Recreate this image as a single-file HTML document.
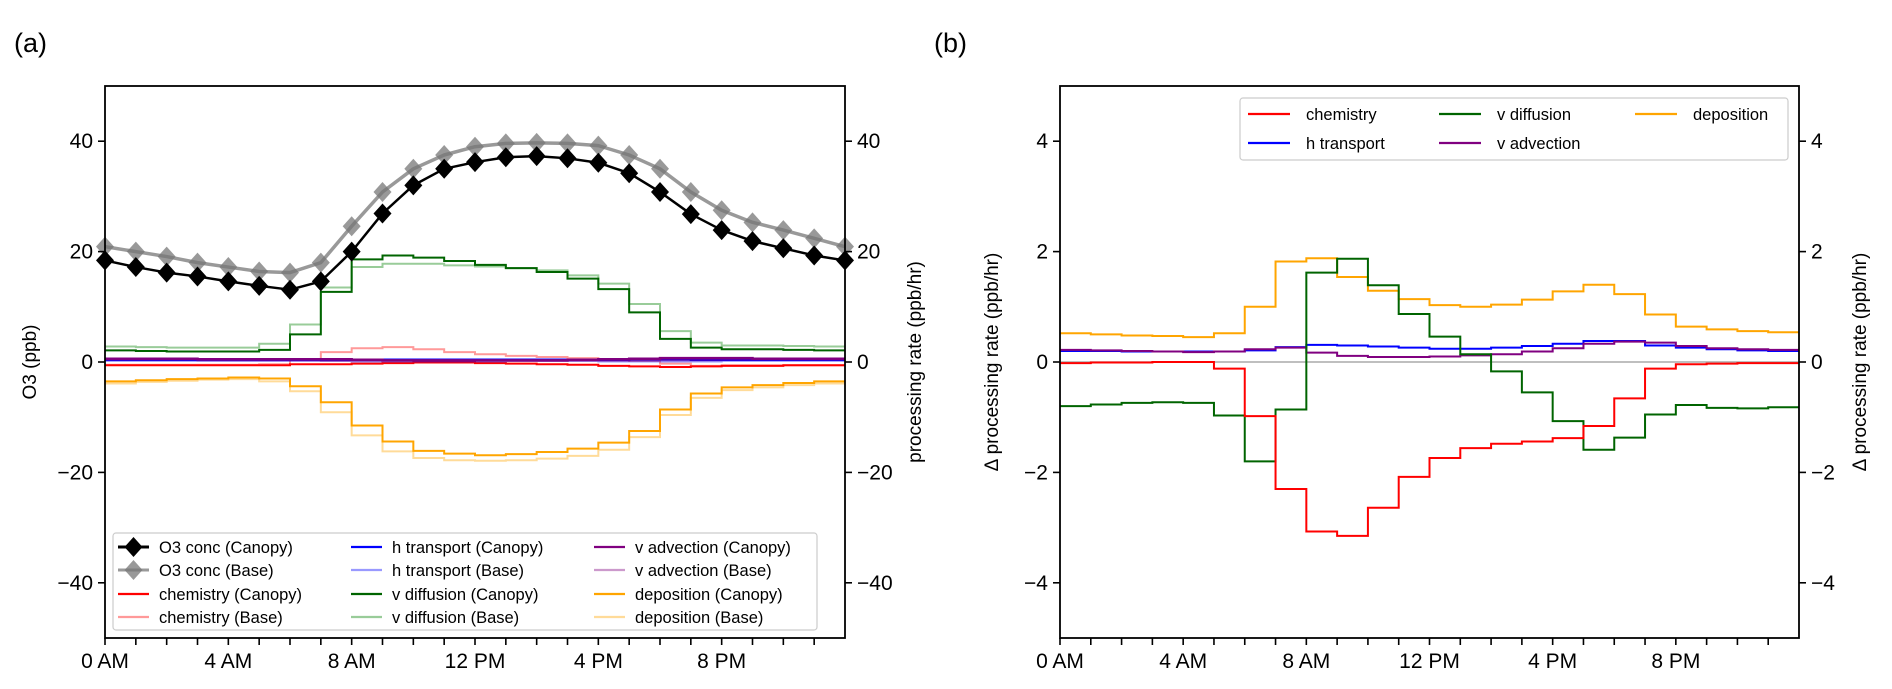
<!DOCTYPE html>
<html><head><meta charset="utf-8">
<style>
html,body{margin:0;padding:0;background:#fff;}
svg{display:block;font-family:"Liberation Sans","DejaVu Sans",sans-serif;}
</style></head>
<body>
<svg id="fig" width="1892" height="689" viewBox="0 0 1892 689" xmlns="http://www.w3.org/2000/svg">
<text x="14" y="52" font-size="27">(a)</text>
<text x="934" y="52" font-size="27">(b)</text>
</svg>
<script>
// ---- data ----
const hours = [0,1,2,3,4,5,6,7,8,9,10,11,12,13,14,15,16,17,18,19,20,21,22,23,24];
const xTickLabels = ["0 AM","4 AM","8 AM","12 PM","4 PM","8 PM"];
const xTickHours = [0,4,8,12,16,20];
const aTicks = [-40,-20,0,20,40];
const bTicks = [-4,-2,0,2,4];
const o3Canopy = [18.4,17.2,16.2,15.5,14.6,13.8,13.1,14.6,20.0,26.9,32.0,35.0,36.2,37.1,37.3,36.9,36.1,34.2,30.8,26.8,23.9,21.9,20.6,19.3,18.4];
const o3Base = [20.9,20.0,19.1,18.0,17.2,16.4,16.2,18.0,24.6,30.8,35.0,37.5,39.0,39.6,39.7,39.6,39.2,37.5,35.0,30.8,27.5,25.3,23.9,22.4,20.9];
const vdiffCanopy = [2.1,2.0,1.9,1.9,1.9,2.2,5.0,12.7,18.6,19.3,18.9,18.3,17.6,17.0,16.3,15.1,13.2,9.0,4.2,2.6,2.3,2.3,2.2,2.1];
const vdiffBase = [2.8,2.7,2.6,2.6,2.6,3.3,6.8,13.5,17.2,17.8,17.8,17.5,17.3,17.0,16.6,15.7,14.2,10.5,5.6,3.5,3.0,3.0,2.9,2.8];
const depCanopy = [-3.5,-3.3,-3.1,-3.0,-2.8,-3.0,-4.4,-7.3,-11.5,-14.4,-16.1,-16.6,-16.9,-16.7,-16.3,-15.7,-14.6,-12.5,-8.6,-5.7,-4.6,-4.2,-3.8,-3.5];
const depBase = [-3.9,-3.6,-3.4,-3.2,-3.1,-3.5,-5.3,-9.1,-13.3,-16.2,-17.4,-17.8,-17.9,-17.8,-17.5,-17.0,-15.9,-13.6,-9.6,-6.5,-5.1,-4.6,-4.2,-3.9];
const chemCanopy = [-0.6,-0.6,-0.6,-0.6,-0.6,-0.6,-0.4,-0.4,-0.3,-0.2,-0.1,-0.1,-0.2,-0.3,-0.4,-0.5,-0.7,-0.8,-0.9,-0.8,-0.7,-0.7,-0.6,-0.6];
const chemBase = [-0.5,-0.5,-0.5,-0.5,-0.5,-0.4,0.5,1.8,2.5,2.7,2.3,1.8,1.4,1.1,0.9,0.7,0.4,0.2,-0.3,-0.7,-0.6,-0.6,-0.6,-0.6];
const htCanopy = [0.4,0.4,0.4,0.4,0.4,0.4,0.4,0.4,0.4,0.4,0.4,0.4,0.4,0.4,0.4,0.4,0.4,0.5,0.5,0.4,0.4,0.4,0.4,0.4];
const htBase = [0.2,0.2,0.2,0.2,0.2,0.2,0.2,0.2,0.1,0.1,0.1,0.1,0.1,0.2,0.2,0.2,0.1,0.1,0.1,0.1,0.2,0.2,0.2,0.2];
const vadvCanopy = [0.6,0.6,0.6,0.5,0.5,0.5,0.5,0.5,0.4,0.3,0.3,0.3,0.3,0.3,0.3,0.4,0.5,0.6,0.7,0.7,0.7,0.6,0.6,0.6];
const vadvBase = [0.4,0.4,0.4,0.3,0.3,0.3,0.3,0.2,0.2,0.2,0.2,0.2,0.2,0.2,0.2,0.2,0.2,0.3,0.3,0.3,0.4,0.4,0.4,0.4];
const dChem = [-0.02,-0.01,-0.01,0,0,-0.12,-0.98,-2.3,-3.07,-3.15,-2.64,-2.08,-1.74,-1.56,-1.48,-1.44,-1.38,-1.16,-0.66,-0.12,-0.04,-0.03,-0.02,-0.02];
const dVdiff = [-0.8,-0.77,-0.74,-0.73,-0.74,-0.97,-1.8,-0.86,1.62,1.87,1.39,0.87,0.46,0.14,-0.17,-0.55,-1.07,-1.59,-1.37,-0.95,-0.78,-0.83,-0.84,-0.82];
const dDep = [0.52,0.5,0.48,0.47,0.45,0.52,1.0,1.82,1.88,1.54,1.29,1.14,1.03,1.0,1.04,1.13,1.28,1.4,1.23,0.86,0.64,0.59,0.56,0.54];
const dHt = [0.2,0.2,0.19,0.19,0.19,0.19,0.21,0.27,0.31,0.3,0.28,0.26,0.24,0.24,0.26,0.29,0.33,0.38,0.38,0.3,0.26,0.23,0.21,0.2];
const dVadv = [0.22,0.21,0.2,0.19,0.18,0.19,0.23,0.26,0.17,0.11,0.09,0.09,0.1,0.12,0.14,0.19,0.25,0.33,0.37,0.35,0.29,0.25,0.23,0.22];

const NS = "http://www.w3.org/2000/svg";
const svg = document.getElementById("fig");
function mk(tag, attrs, parent){ const e=document.createElementNS(NS,tag); for(const k in attrs) e.setAttribute(k,attrs[k]); (parent||svg).appendChild(e); return e; }

function panel(id, L, R, T, B, ymin, ymax, ticks){
  const g = mk("g",{});
  
  
  const xs = h => L + (R-L)*h/24;
  const ys = v => B - (B-T)*(v-ymin)/(ymax-ymin);
  return {g,xs,ys,L,R,T,B,ticks};
}
function frame(p, fs){
  const g=p.g;
  for(let h=0; h<24; h++){
    const t=mk("line",{x1:p.xs(h),x2:p.xs(h),y1:p.B,y2:p.B+7,stroke:"#000","stroke-width":1.6},g);
    
    
  }
  xTickHours.forEach((h,i)=>{
    const t=mk("text",{x:p.xs(h),y:p.B+30,"font-size":fs,"text-anchor":"middle"},g);
    t.textContent=xTickLabels[i];
    
    
  });
  p.ticks.forEach(v=>{
    const y=p.ys(v);
    mk("line",{x1:p.L-7,x2:p.L,y1:y,y2:y,stroke:"#000","stroke-width":1.6},g);
    mk("line",{x1:p.R,x2:p.R+7,y1:y,y2:y,stroke:"#000","stroke-width":1.6},g);
    const lab = (v<0?"\u2212"+Math.abs(v):String(v));
    const a=mk("text",{x:p.L-12,y:y+7,"font-size":fs,"text-anchor":"end"},g); a.textContent=lab;
    
    
    const b=mk("text",{x:p.R+12,y:y+7,"font-size":fs,"text-anchor":"start"},g); b.textContent=lab;
    
    
  });
}
function border(p){
  const r=mk("rect",{x:p.L,y:p.T,width:p.R-p.L,height:p.B-p.T,fill:"none",stroke:"#000","stroke-width":1.8},p.g);
  
  
}
function step(p, vals, color, opacity, name, w){
  let d="";
  vals.forEach((v,i)=>{ const y=p.ys(v); d += (i===0?"M":"L")+p.xs(i)+","+y+" L"+p.xs(i+1)+","+y+" "; });
  const e=mk("path",{d:d,fill:"none",stroke:color,"stroke-opacity":opacity,"stroke-width":w||2},p.g);
  
  
}
function diamond(g,x,y,s,fill,op){
  return mk("path",{d:`M${x},${y-s} L${x+s*0.9},${y} L${x},${y+s} L${x-s*0.9},${y} Z`,fill:fill,"fill-opacity":op},g);
}
function o3line(p, vals, color, op, w, name){
  const d = vals.map((v,i)=>(i?"L":"M")+p.xs(hours[i])+","+p.ys(v)).join(" ");
  const e=mk("path",{d:d,fill:"none",stroke:color,"stroke-opacity":op,"stroke-width":w,"stroke-linejoin":"round"},p.g);
  
  
  vals.forEach((v,i)=>{
    const m=diamond(p.g,p.xs(hours[i]),p.ys(v),10,color,op);
    
    
  });
}
function rotText(x,y,txt,fs,name){
  const t=mk("text",{x:0,y:0,"font-size":fs,"text-anchor":"middle",transform:`translate(${x},${y}) rotate(-90)`});
  t.textContent=txt;
  
  
}

// ---- panel a ----
const pa = panel("panel-a-chart",105,845,86,638,-50,50,aTicks);
step(pa, vdiffBase, "green", 0.4, "v-diffusion-base");
step(pa, vdiffCanopy, "darkgreen", 1, "v-diffusion-canopy");
step(pa, depBase, "orange", 0.4, "deposition-base");
step(pa, depCanopy, "orange", 1, "deposition-canopy");
step(pa, chemBase, "red", 0.4, "chemistry-base");
step(pa, chemCanopy, "red", 1, "chemistry-canopy");
step(pa, htBase, "blue", 0.4, "h-transport-base");
step(pa, htCanopy, "blue", 1, "h-transport-canopy", 2.5);
step(pa, vadvBase, "purple", 0.4, "v-advection-base");
step(pa, vadvCanopy, "purple", 1, "v-advection-canopy", 2.5);
o3line(pa, o3Base, "#777", 0.75, 3.5, "o3-base");
o3line(pa, o3Canopy, "#000", 1, 2.5, "o3-canopy");
border(pa);
frame(pa, 21);
rotText(36,362,"O3 (ppb)",19,"y-axis-title-left-a");
rotText(921,362,"processing rate (ppb/hr)",19,"y-axis-title-right-a");

const lgA = mk("g",{});


mk("rect",{x:113,y:533,width:704,height:97,rx:3,fill:"#fff","fill-opacity":0.85,stroke:"#ccc","stroke-width":1.2},lgA);
const legA = [
 [0,0,"O3 conc (Canopy)","#000",1,"dia"],[0,1,"O3 conc (Base)","#777",0.75,"dia"],
 [0,2,"chemistry (Canopy)","red",1],[0,3,"chemistry (Base)","red",0.4],
 [1,0,"h transport (Canopy)","blue",1],[1,1,"h transport (Base)","blue",0.4],
 [1,2,"v diffusion (Canopy)","darkgreen",1],[1,3,"v diffusion (Base)","green",0.4],
 [2,0,"v advection (Canopy)","purple",1],[2,1,"v advection (Base)","purple",0.4],
 [2,2,"deposition (Canopy)","orange",1],[2,3,"deposition (Base)","orange",0.4]];
const colX=[118,351,594], rowY=[547,570,594,617];
legA.forEach(([c,r,txt,col,op,kind])=>{
  const x=colX[c], y=rowY[r];
  const e=mk("g",{},lgA);
  
  
  mk("line",{x1:x,x2:x+31,y1:y,y2:y,stroke:col,"stroke-opacity":op,"stroke-width":kind?3:2.2},e);
  if(kind) diamond(e,x+15.5,y,10,col,op);
  const t=mk("text",{x:x+41,y:y+6,"font-size":16.5},e); t.textContent=txt;
});

// ---- panel b ----
const pb = panel("panel-b-chart",1060,1799,86,638,-5,5,bTicks);
const z=mk("line",{x1:1060,x2:1799,y1:pb.ys(0),y2:pb.ys(0),stroke:"#aaa","stroke-width":1.6},pb.g);


step(pb, dDep, "orange", 1, "delta-deposition");
step(pb, dHt, "blue", 1, "delta-h-transport");
step(pb, dVadv, "purple", 1, "delta-v-advection");
step(pb, dVdiff, "darkgreen", 1, "delta-v-diffusion");
step(pb, dChem, "red", 1, "delta-chemistry");
border(pb);
frame(pb, 21);
rotText(998,362,"\u0394 processing rate (ppb/hr)",19,"y-axis-title-left-b");
rotText(1866,362,"\u0394 processing rate (ppb/hr)",19,"y-axis-title-right-b");

const lgB = mk("g",{});


mk("rect",{x:1240,y:98,width:548,height:62,rx:3,fill:"#fff","fill-opacity":0.85,stroke:"#ccc","stroke-width":1.2},lgB);
const legB=[[0,0,"chemistry","red"],[0,1,"h transport","blue"],[1,0,"v diffusion","darkgreen"],[1,1,"v advection","purple"],[2,0,"deposition","orange"]];
const colXB=[1248,1439,1635], rowYB=[114,143];
legB.forEach(([c,r,txt,col])=>{
  const x=colXB[c], y=rowYB[r];
  const e=mk("g",{},lgB);
  
  
  mk("line",{x1:x,x2:x+42,y1:y,y2:y,stroke:col,"stroke-width":2.2},e);
  const t=mk("text",{x:x+58,y:y+6,"font-size":16.5},e); t.textContent=txt;
});
</script>
</body></html>
